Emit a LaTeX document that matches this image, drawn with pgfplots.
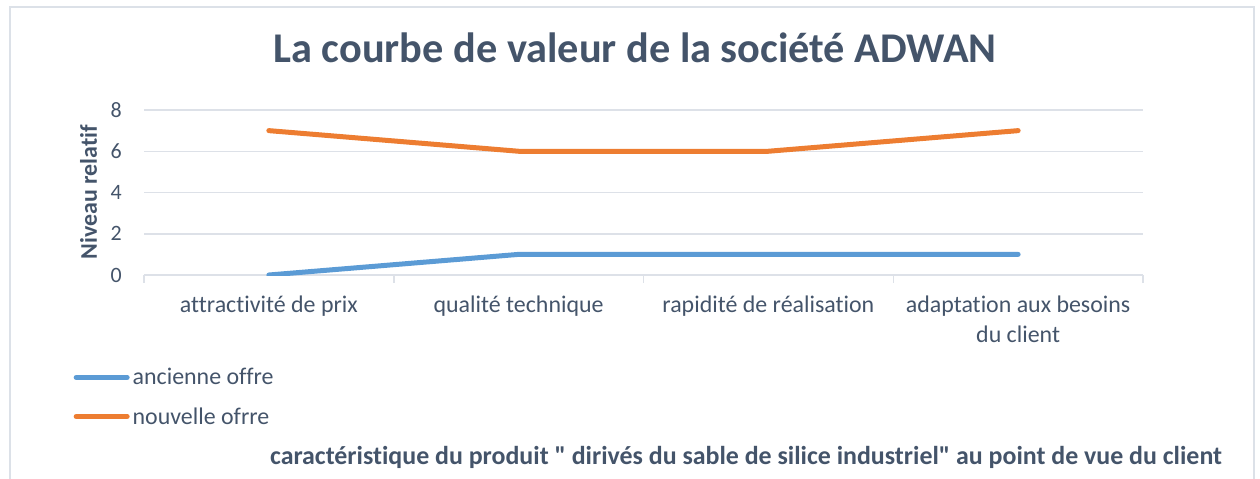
\documentclass[border=0pt]{standalone}
\usepackage{fontspec}
\setmainfont{Carlito}[Ligatures={NoCommon}]
\usepackage{pgfplots}
\pgfplotsset{compat=1.18}
\definecolor{txt}{HTML}{44546A}
\definecolor{gridc}{HTML}{DDE1E8}
\definecolor{framec}{HTML}{DCE1E8}
\definecolor{oldc}{HTML}{5B9BD5}
\definecolor{newc}{HTML}{ED7D31}

\begin{document}
\begin{tikzpicture}
\useasboundingbox (0bp,0bp) rectangle (1260bp,-479bp);
\draw[framec, line width=2bp] (10bp,-479bp) -- (10bp,-7bp) -- (1254bp,-7bp) -- (1254bp,-479bp);
\begin{axis}[
  at={(144bp,-275bp)}, anchor=south west,
  width=999bp, height=165bp, scale only axis,
  xmin=-0.5, xmax=3.5, ymin=0, ymax=8,
  ytick={0,2,4,6,8},
  xtick={0,1,2,3},
  xticklabels={attractivité de prix, qualité technique, rapidité de réalisation,
    {adaptation aux besoins\\du client}},
  axis line style={draw=none},
  tick pos=left,
  major tick length=0pt,
  extra x ticks={-0.5,0.5,1.5,2.5,3.5},
  extra x tick labels={},
  extra x tick style={major tick length=8bp, tick align=outside,
    major tick style={gridc, line width=1.5bp}, grid=none},
  ymajorgrids, grid style={gridc, line width=1.5bp},
  /pgf/number format/assume math mode=true,
  xticklabel style={align=center, inner sep=0pt, anchor=north, text=txt,
    font=\fontsize{24}{30}\selectfont},
  xticklabel shift=21bp,
  yticklabel style={inner sep=0pt, anchor=east, text=txt,
    font=\fontsize{22}{26}\selectfont},
  yticklabel shift=22bp,
  title={La courbe de valeur de la société ADWAN},
  title style={at={(axis description cs:0.4915,1.2545)}, anchor=base,
    inner sep=0pt, text=txt, font=\bfseries\fontsize{42.5}{50}\selectfont},
  xlabel={caractéristique du produit \textquotedbl{} dirivés du sable de silice industriel\textquotedbl{} au point de vue du client},
  xlabel style={at={(axis description cs:0.6026,-1.1515)}, anchor=base,
    inner sep=0pt, text=txt, font=\bfseries\fontsize{26}{30}\selectfont},
  ylabel={Niveau relatif},
  ylabel style={at={(axis description cs:-0.0556,0.503)}, anchor=center,
    inner sep=0pt, text=txt, font=\bfseries\fontsize{24}{28}\selectfont},
  legend image code/.code={\draw[#1, line cap=round] (0bp,0bp) -- (51bp,0bp);},
  legend style={at={(axis description cs:-0.0706,-0.7394)}, anchor=west,
    draw=none, fill=none, inner sep=0pt, column sep=3bp, row sep=21bp,
    nodes={inner sep=0pt, text=txt}, font=\fontsize{24}{28}\selectfont},
  legend cell align=left,
]
\addplot[oldc, line width=5bp, line cap=round, line join=round]
  coordinates {(0,0) (1,1) (2,1) (3,1)};
\addlegendentry{ancienne offre}
\addplot[newc, line width=5bp, line cap=round, line join=round]
  coordinates {(0,7) (1,6) (2,6) (3,7)};
\addlegendentry{nouvelle ofrre}
\end{axis}
\end{tikzpicture}
\end{document}
